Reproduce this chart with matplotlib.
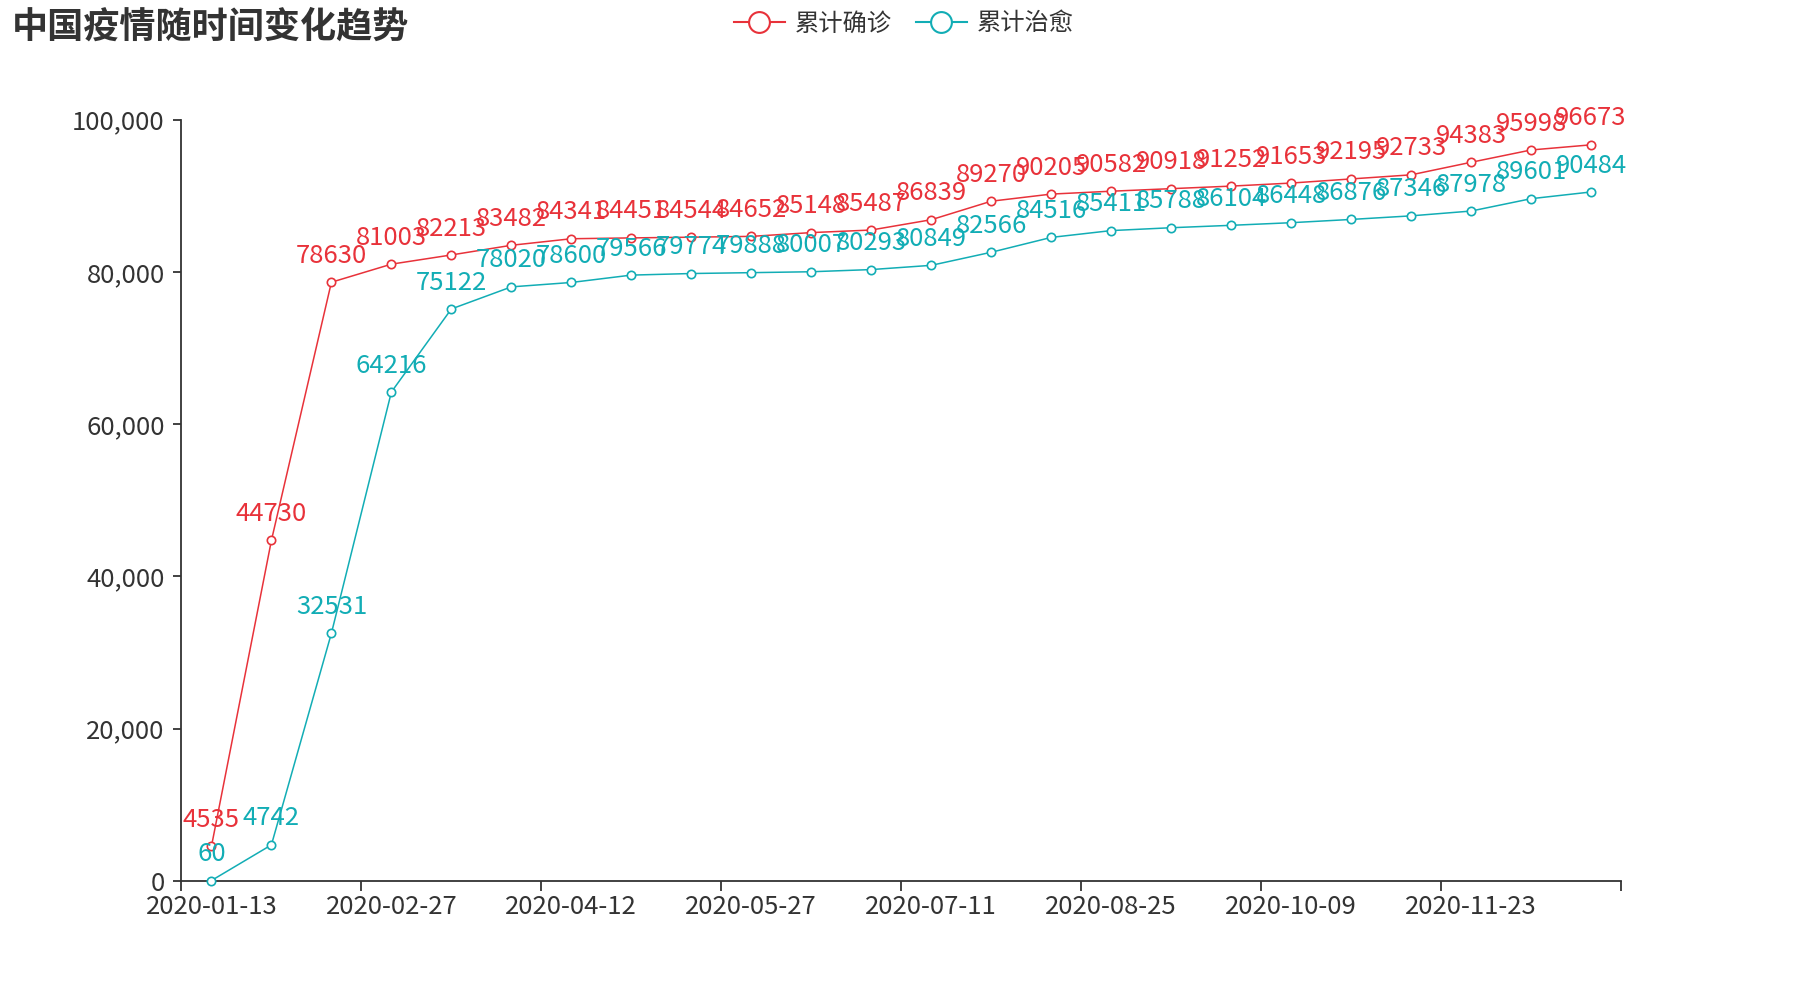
import numpy as np
import matplotlib
matplotlib.use('Agg')
import matplotlib.pyplot as plt
from matplotlib.lines import Line2D
from matplotlib.ticker import FuncFormatter

plt.rcParams['font.family'] = ['Noto Sans CJK SC', 'DejaVu Sans']

# data
dates = ['2020-01-13', '2020-01-28', '2020-02-12', '2020-02-27', '2020-03-13', '2020-03-28',
         '2020-04-12', '2020-04-27', '2020-05-12', '2020-05-27', '2020-06-11', '2020-06-26',
         '2020-07-11', '2020-07-26', '2020-08-10', '2020-08-25', '2020-09-09', '2020-09-24',
         '2020-10-09', '2020-10-24', '2020-11-08', '2020-11-23', '2020-12-08', '2020-12-23']
confirmed = [4535, 44730, 78630, 81003, 82213, 83482, 84341, 84451, 84544, 84652, 85148, 85487,
             86839, 89270, 90205, 90582, 90918, 91252, 91653, 92195, 92733, 94383, 95998, 96673]
cured = [60, 4742, 32531, 64216, 75122, 78020, 78600, 79566, 79774, 79888, 80007, 80293,
         80849, 82566, 84516, 85411, 85788, 86104, 86448, 86876, 87346, 87978, 89601, 90484]
series_names = ['累计确诊', '累计治愈']
title = '中国疫情随时间变化趋势'

red = '#e8323a'
teal = '#12adb5'
dark = '#333333'

fig = plt.figure(figsize=(18, 10), dpi=100)
ax = fig.add_axes([0.1008, 0.119, 0.7998, 0.7615])

x = np.arange(len(dates))
for vals, c in ((confirmed, red), (cured, teal)):
    ax.plot(x, vals, color=c, lw=1.1, marker='o', ms=6, mfc='white', mec=c, mew=1.2,
            zorder=3, clip_on=False)
    for xi, v in zip(x, vals):
        ax.annotate(str(v), (xi, v), xytext=(0, 14), textcoords='offset points',
                    ha='center', va='baseline', color=c, fontsize=18.5, zorder=4)

ax.set_xlim(-0.5, len(dates) - 0.5)
ax.set_ylim(0, 100000)
ax.set_yticks(np.arange(0, 100001, 20000))
ax.yaxis.set_major_formatter(FuncFormatter(lambda v, p: f'{int(v):,}'))

# ticks on category boundaries, labels on category centres
ax.set_xticks(np.arange(-0.5, len(dates), 3))
ax.set_xticklabels([])
ax.set_xticks(x[::3], labels=dates[::3], minor=True)
ax.tick_params(axis='x', which='major', length=7, width=1.3, color=dark)
ax.tick_params(axis='x', which='minor', length=0, pad=9, labelsize=18.5, labelcolor=dark)
ax.tick_params(axis='y', length=6, width=1.3, color=dark, pad=6, labelsize=18.5, labelcolor=dark)

for s in ('top', 'right'):
    ax.spines[s].set_visible(False)
for s in ('left', 'bottom'):
    ax.spines[s].set_color(dark)
    ax.spines[s].set_linewidth(1.3)

fig.text(12 / 1800, 1 - 27.5 / 1000, title, fontsize=26, fontweight='bold', va='center',
         ha='left', color=dark)

handles = [Line2D([], [], color=c, lw=1.5, marker='o', ms=15, mfc='white', mec=c, mew=1.5)
           for c in (red, teal)]
leg = fig.legend(handles, series_names, loc='center', bbox_to_anchor=(0.502, 0.9765), ncol=2,
                 frameon=False, fontsize=17.5, handlelength=2.1, handletextpad=0.4,
                 columnspacing=1.0)
for t in leg.get_texts():
    t.set_color(dark)

fig.savefig('out.png', dpi=100)
